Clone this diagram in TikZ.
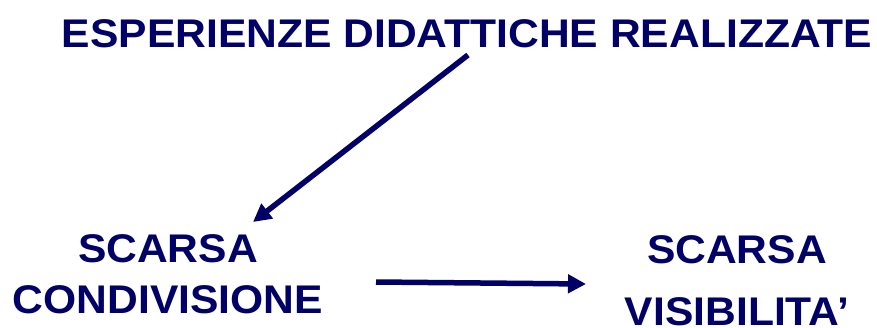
\documentclass[tikz,border=0pt]{standalone}
\usepackage{fontspec}
\setmainfont{Liberation Sans}[FakeStretch=1.065]
\usetikzlibrary{arrows.meta}
\definecolor{navy}{RGB}{0,0,102}
\begin{document}
\begin{tikzpicture}[x=1pt,y=-1pt,
  lbl/.style={text=navy,font=\bfseries\fontsize{40}{51}\selectfont,inner sep=0pt,align=center,anchor=base},
  conn/.style={draw=navy,line width=5.5pt,-{Triangle[length=18pt,width=18pt]}}]
\useasboundingbox (0,0) rectangle (877,327);
\node[lbl] (title) at (467,47) {ESPERIENZE DIDATTICHE REALIZZATE};
\node[lbl] (cond) at (168,313) {SCARSA\\CONDIVISIONE};
\node[lbl,font=\bfseries\fontsize{40}{62}\selectfont] (vis) at (737,325) {SCARSA\\VISIBILITA’};
\coordinate (d1) at (468,55);
\coordinate (d2) at (253,222);
\coordinate (h1) at (376,282);
\coordinate (h2) at (586,284);
\draw[conn] (d1) -- (d2);
\draw[conn] (h1) -- (h2);
\end{tikzpicture}
\end{document}
